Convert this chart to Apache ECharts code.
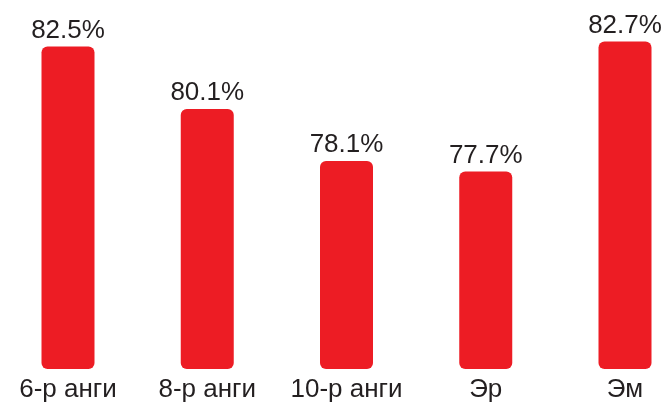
<!DOCTYPE html>
<html><head><meta charset="utf-8">
<script src="https://cdn.jsdelivr.net/npm/echarts@6/dist/echarts.min.js"></script>
<style>html,body{margin:0;padding:0;background:#fff}#c{width:664px;height:403px}</style>
</head><body><div id="c"></div>
<script>
const categories = ['6-р анги', '8-р анги', '10-р анги', 'Эр', 'Эм'];
const values = [82.5, 80.1, 78.1, 77.7, 82.7];

const chart = echarts.init(document.getElementById('c'), null, {renderer: 'canvas'});
chart.setOption({
  animation: false,
  grid: {left: 68, right: 39, top: 5, bottom: 34},
  xAxis: {
    type: 'category', data: categories, boundaryGap: false,
    axisLine: {show: false}, axisTick: {show: false}, splitLine: {show: false},
    axisLabel: {color: '#231f20', fontSize: 26, fontFamily: 'Liberation Sans, Arial', margin: 8, interval: 0}
  },
  yAxis: {type: 'value', min: 70.1, max: 84.1, show: false, splitLine: {show: false}},
  series: [{
    type: 'bar', data: values, barWidth: 53,
    itemStyle: {color: '#ed1c24', borderRadius: 6},
    label: {show: true, position: 'top', distance: 3, formatter: p => p.value.toFixed(1) + '%',
      color: '#231f20', fontSize: 26, fontFamily: 'Liberation Sans, Arial'}
  }]
});
</script></body></html>
